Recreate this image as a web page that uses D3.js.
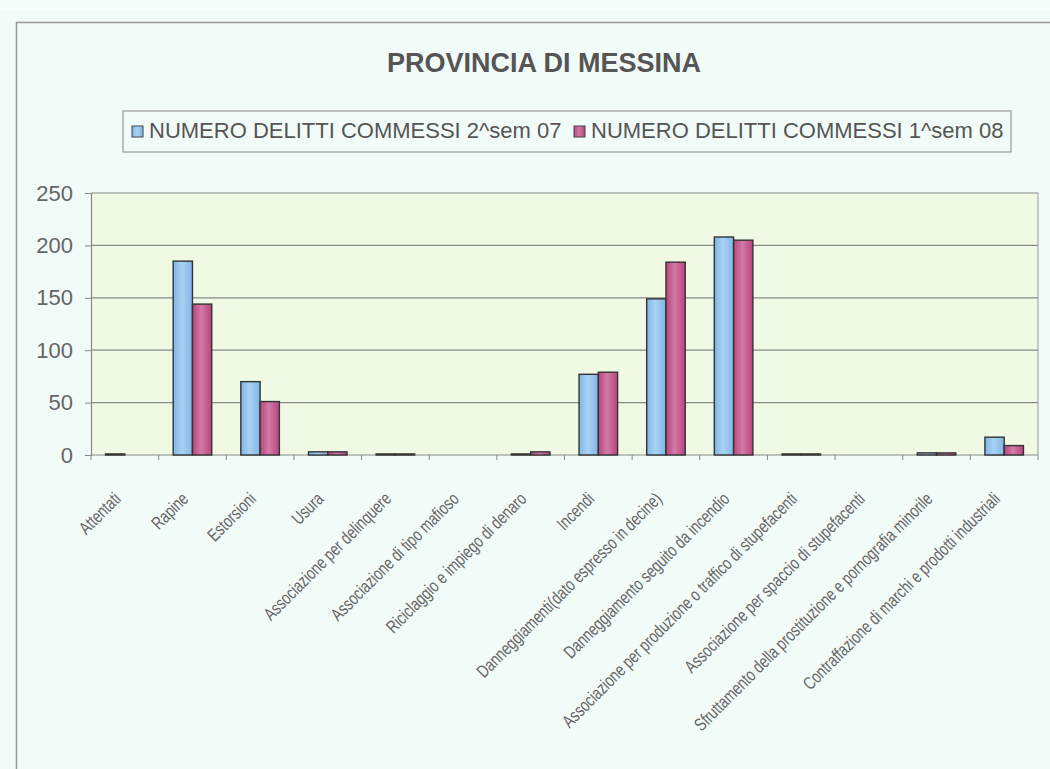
<!DOCTYPE html>
<html>
<head>
<meta charset="utf-8">
<script src="https://cdn.jsdelivr.net/npm/d3@7"></script>
<style>
  body { margin: 0; background: #f7fdfb; }
  text { font-family: "Liberation Sans", Arial, sans-serif; }
  .cat-label { font-family: "Liberation Sans", Arial, sans-serif; font-size: 18px; fill: #666; }
</style>
</head>
<body>
<svg id="chart"></svg>
<script>
var width = 1050, height = 769;

// categories and values
var categories = [
  "Attentati",
  "Rapine",
  "Estorsioni",
  "Usura",
  "Associazione per delinquere",
  "Associazione di tipo mafioso",
  "Riciclaggio e impiego di denaro",
  "Incendi",
  "Danneggiamenti(dato espresso in decine)",
  "Danneggiamento seguito da incendio",
  "Associazione per produzione o traffico di stupefacenti",
  "Associazione per spaccio di stupefacenti",
  "Sfruttamento della prostituzione e pornografia minorile",
  "Contraffazione di marchi e prodotti industriali"
];
var sem07 = [1, 185, 70, 3, 1, 0, 1, 77, 149, 208, 1, 0, 2, 17];
var sem08 = [0, 144, 51, 3, 1, 0, 3, 79, 184, 205, 1, 0, 2, 9];
var seriesNames = ["NUMERO DELITTI COMMESSI 2^sem 07", "NUMERO DELITTI COMMESSI 1^sem 08"];
var yTicks = [0, 50, 100, 150, 200, 250];

var svg = d3.select("#chart").attr("width", width).attr("height", height);

// gradients for the bars
var defs = svg.append("defs");
function grad(id, dark, light) {
  var g = defs.append("linearGradient").attr("id", id).attr("x1", "0").attr("x2", "1").attr("y1", "0").attr("y2", "0");
  g.append("stop").attr("offset", "0%").attr("stop-color", dark);
  g.append("stop").attr("offset", "45%").attr("stop-color", light);
  g.append("stop").attr("offset", "100%").attr("stop-color", dark);
}
grad("gBlue", "#7fb6e6", "#a9d2f4");
grad("gPink", "#b8447f", "#d27aa6");

// outer frame
svg.append("rect").attr("x", 0).attr("y", 10).attr("width", width).attr("height", height - 10).attr("fill", "#f1fbf8");
svg.append("rect").attr("x", 16.5).attr("y", 22.5).attr("width", width + 20).attr("height", height + 20)
  .attr("fill", "none").attr("stroke", "#999").attr("stroke-width", 1.5);

var margin = { left: 91, right: 1038, top: 193, bottom: 455 };

var x = d3.scaleBand().domain(categories).range([margin.left, margin.right]).paddingInner(0.43).paddingOuter(0.215);
var xOuter = d3.scaleBand().domain(categories).range([margin.left, margin.right]);
var xSub = d3.scaleBand().domain([0, 1]).range([0, x.bandwidth()]);
var y = d3.scaleLinear().domain([0, 250]).range([margin.bottom, margin.top]);

// plot area
svg.append("rect").attr("x", margin.left).attr("y", margin.top)
  .attr("width", margin.right - margin.left).attr("height", margin.bottom - margin.top)
  .attr("fill", "#eff9e3");

// gridlines
svg.append("g").selectAll("line").data(yTicks).enter().append("line")
  .attr("x1", margin.left).attr("x2", margin.right)
  .attr("y1", function(d) { return y(d); }).attr("y2", function(d) { return y(d); })
  .attr("stroke", "#8a8a8a").attr("stroke-width", 1.2);

// right border of plot area
svg.append("line").attr("x1", margin.right).attr("x2", margin.right)
  .attr("y1", margin.top).attr("y2", margin.bottom).attr("stroke", "#999");

// y axis
var yAxis = svg.append("g").attr("transform", "translate(" + margin.left + ",0)")
  .call(d3.axisLeft(y).tickValues(yTicks).tickSize(6).tickPadding(12));
yAxis.select(".domain").attr("stroke", "#888").attr("stroke-width", 1.2);
yAxis.selectAll(".tick line").attr("stroke", "#888");
yAxis.selectAll("text").attr("font-size", "22px").attr("fill", "#666")
  .style("font-family", "'Liberation Sans', Arial, sans-serif");

// x axis ticks
var xt = categories.map(function(c) { return xOuter(c); }).concat([margin.right]);
svg.append("g").selectAll("line").data(xt).enter().append("line")
  .attr("x1", function(d) { return d; }).attr("x2", function(d) { return d; })
  .attr("y1", margin.bottom).attr("y2", margin.bottom + 5)
  .attr("stroke", "#888");

// bars
var groups = svg.append("g").selectAll("g").data(categories).enter().append("g")
  .attr("transform", function(d) { return "translate(" + x(d) + ",0)"; });
groups.append("rect")
  .attr("x", xSub(0)).attr("width", xSub.bandwidth())
  .attr("y", function(d, i) { return y(sem07[i]); })
  .attr("height", function(d, i) { return y(0) - y(sem07[i]); })
  .attr("fill", "url(#gBlue)").attr("stroke", "#333").attr("stroke-width", 1.4);
groups.append("rect")
  .attr("x", xSub(1)).attr("width", xSub.bandwidth())
  .attr("y", function(d, i) { return y(sem08[i]); })
  .attr("height", function(d, i) { return y(0) - y(sem08[i]); })
  .attr("fill", "url(#gPink)").attr("stroke", "#333").attr("stroke-width", 1.4);

// category labels, rotated and condensed
svg.append("g").selectAll("text").data(categories).enter().append("text")
  .attr("class", "cat-label")
  .attr("text-anchor", "end")
  .attr("transform", function(d) {
    return "translate(" + (xOuter(d) + xOuter.bandwidth() / 2 - 3) + "," + (margin.bottom + 45) + ") rotate(-45) scale(0.76,1)";
  })
  .text(function(d) { return d; });

// title
svg.append("text").attr("x", 544).attr("y", 72).attr("text-anchor", "middle")
  .attr("font-size", "27px").attr("font-weight", "bold").attr("fill", "#555")
  .text("PROVINCIA DI MESSINA");

// legend
svg.append("rect").attr("x", 123).attr("y", 111).attr("width", 888).attr("height", 41)
  .attr("fill", "none").attr("stroke", "#999").attr("stroke-width", 1.2);
var legX = [132, 574];
var legFill = ["url(#gBlue)", "url(#gPink)"];
seriesNames.forEach(function(name, i) {
  svg.append("rect").attr("x", legX[i]).attr("y", 126).attr("width", 11).attr("height", 11)
    .attr("fill", legFill[i]).attr("stroke", "#444");
  svg.append("text").attr("x", legX[i] + 17).attr("y", 138)
    .attr("font-size", "22px").attr("fill", "#555").text(name);
});
</script>
</body>
</html>
